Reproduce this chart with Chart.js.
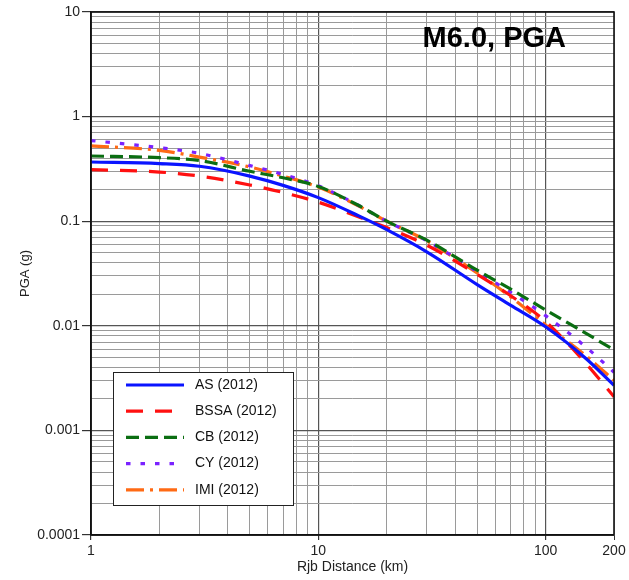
<!DOCTYPE html>
<html lang="en">
<head>
  <meta charset="UTF-8">
  <title>M6.0, PGA</title>
  <style>
    body {
      margin: 0;
      background-color: #ffffff;
    }
    #wrap {
      width: 629px;
      height: 580px;
    }
  </style>
</head>
<body>

<div id="wrap">
  <canvas id="pgaChart" width="629" height="580"></canvas>
</div>

<script src="https://cdn.jsdelivr.net/npm/chart.js"></script>
<script>
  // Rjb distance (km) where the curves are read
  const distances = [1, 2, 3, 5, 7, 10, 15, 20, 30, 50, 70, 100, 150, 200];

  // PGA (g) for each model
  const asValues   = [0.368, 0.355, 0.335, 0.27, 0.22, 0.168, 0.113, 0.083, 0.051, 0.0248, 0.0158, 0.0098, 0.0049, 0.0027];
  const bssaValues = [0.311, 0.295, 0.27, 0.222, 0.188, 0.152, 0.11, 0.087, 0.059, 0.031, 0.0195, 0.011, 0.0044, 0.0021];
  const cbValues   = [0.42, 0.405, 0.38, 0.30, 0.26, 0.215, 0.142, 0.1, 0.066, 0.034, 0.0225, 0.0142, 0.0085, 0.0059];
  const cyValues   = [0.59, 0.505, 0.445, 0.34, 0.28, 0.218, 0.142, 0.1, 0.065, 0.033, 0.021, 0.0125, 0.0063, 0.0036];
  const imiValues  = [0.525, 0.475, 0.41, 0.33, 0.27, 0.212, 0.14, 0.1, 0.065, 0.032, 0.019, 0.0102, 0.0052, 0.003];

  const seriesNames = ['AS (2012)', 'BSSA (2012)', 'CB (2012)', 'CY (2012)', 'IMI (2012)'];

  // tick labels that are printed on the axes
  const xTickLabels = [1, 10, 100, 200];
  const yTickLabels = [0.0001, 0.001, 0.01, 0.1, 1, 10];

  const chartTitle = 'M6.0, PGA';

  // line looks, one per model
  const lineStyles = [
    { color: '#0a14ff', dash: [] },
    { color: '#ff1010', dash: [17, 12] },
    { color: '#0b6e12', dash: [13, 6] },
    { color: '#7a22ff', dash: [4.5, 10] },
    { color: '#ff6a14', dash: [18, 6, 3, 6] }
  ];

  const allValues = [asValues, bssaValues, cbValues, cyValues, imiValues];

  const datasets = allValues.map((vals, i) => ({
    label: seriesNames[i],
    data: distances.map((d, j) => ({ x: d, y: vals[j] })),
    borderColor: lineStyles[i].color,
    borderDash: lineStyles[i].dash,
    borderWidth: 3.2,
    borderCapStyle: 'butt',
    pointRadius: 0,
    fill: false,
    cubicInterpolationMode: 'monotone'
  }));

  // 1..9 times each power of ten, used as grid lines
  function logGrid(min, max) {
    const list = [];
    for (let e = Math.floor(Math.log10(min)); e <= Math.ceil(Math.log10(max)); e++) {
      for (let k = 1; k <= 9; k++) {
        const v = parseFloat((k * Math.pow(10, e)).toPrecision(6));
        if (v >= min - 1e-12 && v <= max + 1e-9) list.push(v);
      }
    }
    return list;
  }

  function isDecade(v) {
    const l = Math.log10(v);
    return Math.abs(l - Math.round(l)) < 1e-6;
  }

  function inList(list, v) {
    return list.some(t => Math.abs(Math.log10(t) - Math.log10(v)) < 1e-6);
  }

  const fontFamily = '"Liberation Sans", Arial, Helvetica, sans-serif';

  // legend box and big title inside the plot
  const extrasPlugin = {
    id: 'extras',
    afterDraw(chart) {
      const ctx = chart.ctx;
      const area = chart.chartArea;
      ctx.save();

      // frame round the plot
      ctx.strokeStyle = '#111';
      ctx.lineWidth = 1.6;
      ctx.setLineDash([]);
      ctx.strokeRect(area.left, area.top, area.right - area.left, area.bottom - area.top);

      // title
      ctx.fillStyle = '#000';
      ctx.font = 'bold 29px ' + fontFamily;
      ctx.textAlign = 'right';
      ctx.textBaseline = 'alphabetic';
      ctx.fillText(chartTitle, 566, 47);

      // legend
      const bx = 113.5, by = 372.5, bw = 180, bh = 133;
      ctx.fillStyle = '#fff';
      ctx.fillRect(bx, by, bw, bh);
      ctx.strokeStyle = '#222';
      ctx.lineWidth = 1;
      ctx.strokeRect(bx, by, bw, bh);

      ctx.font = '14px ' + fontFamily;
      ctx.textAlign = 'left';
      ctx.textBaseline = 'middle';
      chart.data.datasets.forEach((ds, i) => {
        const y = 385 + i * 26.2;
        ctx.strokeStyle = ds.borderColor;
        ctx.lineWidth = 3.2;
        ctx.lineCap = 'butt';
        ctx.setLineDash(ds.borderDash);
        ctx.beginPath();
        ctx.moveTo(126, y);
        ctx.lineTo(184, y);
        ctx.stroke();
        ctx.setLineDash([]);
        ctx.fillStyle = '#111';
        ctx.fillText(ds.label, 195, y);
      });

      ctx.restore();
    }
  };

  const ctx = document.getElementById('pgaChart').getContext('2d');

  new Chart(ctx, {
    type: 'line',
    data: { datasets: datasets },
    plugins: [extrasPlugin],
    options: {
      responsive: false,
      animation: false,
      layout: { padding: { top: 12, right: 15, left: 0, bottom: 0 } },
      plugins: {
        legend: { display: false },
        tooltip: { enabled: false }
      },
      scales: {
        x: {
          type: 'logarithmic',
          min: 1,
          max: 200,
          afterBuildTicks(scale) {
            scale.ticks = logGrid(1, 200).map(v => ({ value: v, major: isDecade(v) }));
          },
          afterFit(scale) { scale.height = 45; },
          ticks: {
            autoSkip: false,
            maxRotation: 0,
            padding: 3,
            color: '#222',
            font: { family: fontFamily, size: 14 },
            callback: v => inList(xTickLabels, v) ? String(v) : ''
          },
          grid: {
            color: c => (c.tick && c.tick.major) ? '#555' : '#9a9a9a',
            lineWidth: c => (c.tick && c.tick.major) ? 1.2 : 1,
            tickLength: 5,
            tickColor: c => (c.tick && inList(xTickLabels, c.tick.value)) ? '#333' : 'rgba(0,0,0,0)'
          },
          border: { display: true, color: '#111', width: 1.6 },
          title: {
            display: true,
            text: 'Rjb Distance (km)',
            color: '#222',
            font: { family: fontFamily, size: 14 },
            padding: { top: 0, bottom: 4 }
          }
        },
        y: {
          type: 'logarithmic',
          min: 0.0001,
          max: 10,
          afterBuildTicks(scale) {
            scale.ticks = logGrid(0.0001, 10).map(v => ({ value: v, major: isDecade(v) }));
          },
          afterFit(scale) { scale.width = 91; },
          ticks: {
            autoSkip: false,
            padding: 2,
            color: '#222',
            font: { family: fontFamily, size: 14 },
            callback: v => inList(yTickLabels, v) ? String(v) : ''
          },
          grid: {
            color: c => (c.tick && c.tick.major) ? '#555' : '#9a9a9a',
            lineWidth: c => (c.tick && c.tick.major) ? 1.2 : 1,
            tickLength: 9,
            tickColor: c => (c.tick && inList(yTickLabels, c.tick.value)) ? '#333' : 'rgba(0,0,0,0)'
          },
          border: { display: true, color: '#111', width: 1.6 },
          title: {
            display: true,
            text: 'PGA (g)',
            color: '#222',
            font: { family: fontFamily, size: 13 },
            padding: { top: 18, bottom: 0 }
          }
        }
      }
    }
  });
</script>
</body>
</html>
